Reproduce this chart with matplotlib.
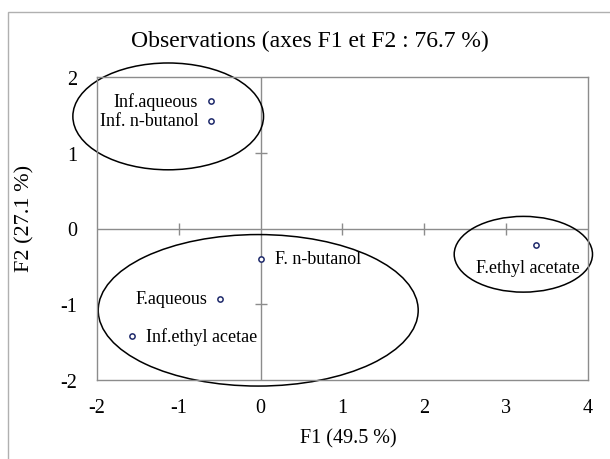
import matplotlib.pyplot as plt
from matplotlib.patches import Ellipse, Rectangle

plt.rcParams["font.family"] = "serif"
plt.rcParams["font.serif"] = ["Liberation Serif", "DejaVu Serif"]
plt.rcParams["axes.unicode_minus"] = False

# observations (F1, F2)
names = ["Inf.aqueous", "Inf. n-butanol", "F. n-butanol", "F.aqueous",
         "Inf.ethyl acetae", "F.ethyl acetate"]
f1 = [-0.61, -0.61, 0.01, -0.50, -1.57, 3.37]
f2 = [1.68, 1.42, -0.40, -0.93, -1.42, -0.22]

# groups drawn as ellipses: centre x, centre y, width, height
ell_cx = [-1.13, -0.03, 3.21]
ell_cy = [1.48, -1.08, -0.34]
ell_w = [2.33, 3.91, 1.69]
ell_h = [1.41, 2.00, 1.00]

xticks = [-2, -1, 0, 1, 2, 3, 4]
yticks = [-2, -1, 0, 1, 2]

fig = plt.figure(figsize=(6.1, 4.6), dpi=100)
ax = fig.add_axes([97 / 610, 79 / 460, 491 / 610, 303 / 460])

# outer chart border (partly off the picture)
fig.patches.append(Rectangle((8 / 610, -0.1), 1.2, (447 / 460) + 0.1,
                             transform=fig.transFigure, fill=False,
                             edgecolor="#b0b0b0", linewidth=1.0))

gray = "#8c8c8c"
for s in ax.spines.values():
    s.set_color(gray)
    s.set_linewidth(1.0)

ax.set_xlim(-2, 4)
ax.set_ylim(-2, 2)
ax.set_xticks(xticks)
ax.set_yticks(yticks)
ax.tick_params(length=0, labelsize=14.5)
ax.tick_params(axis="x", pad=13)
ax.tick_params(axis="y", pad=14)

# zero axes with crossing ticks
ax.axhline(0, color=gray, linewidth=1.0, zorder=1)
ax.axvline(0, color=gray, linewidth=1.0, zorder=1)
inner_x = [t for t in xticks if t not in (xticks[0], 0, xticks[-1])]
inner_y = [t for t in yticks if t not in (yticks[0], 0, yticks[-1])]
ax.plot(inner_x, [0] * len(inner_x), linestyle="none", marker="|",
        markersize=9, color=gray, markeredgewidth=1.0, zorder=1)
ax.plot([0] * len(inner_y), inner_y, linestyle="none", marker="_",
        markersize=9, color=gray, markeredgewidth=1.0, zorder=1)

ax.plot(f1, f2, linestyle="none", marker="o", markersize=3.8,
        markerfacecolor="white", markeredgecolor="#1f2a6b",
        markeredgewidth=1.1, zorder=3)

for cx, cy, w, h in zip(ell_cx, ell_cy, ell_w, ell_h):
    ax.add_patch(Ellipse((cx, cy), w, h, fill=False, edgecolor="black",
                         linewidth=1.1, clip_on=False, zorder=2))

offsets = [(-9, 0, "right", "center"), (-9, 0, "right", "center"),
           (10, 0, "left", "center"), (-9, 0, "right", "center"),
           (10, 0, "left", "center"), (-6, -16, "center", "center")]
for n, x, y, (dx, dy, ha, va) in zip(names, f1, f2, offsets):
    ax.annotate(n, (x, y), xytext=(dx, dy), textcoords="offset points",
                ha=ha, va=va, fontsize=13, zorder=4)

fig.text(310 / 610, 1 - 41 / 460, "Observations (axes F1 et F2 : 76.7 %)",
         fontsize=17, ha="center", va="center")
ax.set_xlabel("F1 (49.5 %)", fontsize=14.5)
ax.xaxis.set_label_coords((348 - 97) / 491, -(430 - 382) / 303)
ax.set_ylabel("F2 (27.1 %)", fontsize=16)
ax.yaxis.set_label_coords(-(97 - 34) / 491, (382 - 219) / 303)

fig.savefig("out.png", dpi=100)
